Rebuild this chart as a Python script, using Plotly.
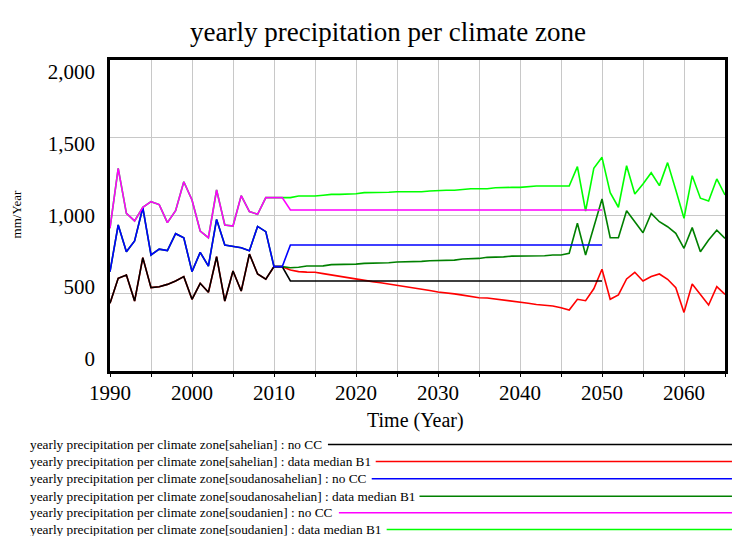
import plotly.graph_objects as go

# ---------------- data ----------------
years_hist = list(range(1990, 2012))          # 1990..2011 (shared by both scenarios)
sahel_hist = [435, 596, 617, 450, 729, 536, 542, 557, 579, 607, 461,
              564, 506, 735, 450, 643, 514, 752, 624, 590, 671, 671]
soudanosahel_hist = [639, 939, 767, 836, 1050, 746, 784, 774, 883, 857, 639,
                     763, 675, 975, 810, 802, 793, 774, 930, 896, 671, 671]
soudan_hist = [918, 1303, 1014, 965, 1053, 1089, 1070, 954, 1031, 1217, 1100,
               900, 857, 1164, 939, 932, 1128, 1025, 1008, 1115, 1115, 1115]

# no CC scenario after 2011: constant level 2012..2050
years_nocc_future = [2012, 2050]
sahel_nocc_future = [579, 579]
soudanosahel_nocc_future = [810, 810]
soudan_nocc_future = [1035, 1035]

# data median B1 scenario, 2012..2065
years_b1_future = list(range(2012, 2066))
sahel_b1_future = [649, 639, 636, 635, 626, 617, 608, 598, 590, 583,
                   575, 568, 560, 553, 545, 536, 527, 518, 508, 504,
                   496, 488, 479, 471, 469, 463, 456, 449, 446, 436,
                   428, 424, 418, 407, 392, 461, 452, 529, 654, 461,
                   489, 592, 635, 579, 607, 624, 590, 536, 377, 560,
                   495, 424, 542, 493]
soudanosahel_b1_future = [664, 667, 675, 675, 676, 684, 684, 684, 687, 692,
                          692, 692, 696, 701, 701, 701, 705, 709, 709, 709,
                          713, 720, 720, 724, 731, 731, 734, 739, 739, 739,
                          739, 741, 746, 746, 757, 950, 746, 928, 1106, 857,
                          857, 1031, 960, 889, 1014, 960, 928, 885, 789, 922,
                          767, 842, 905, 853]
soudan_b1_future = [1115, 1125, 1125, 1125, 1130, 1136, 1136, 1136, 1140, 1147,
                    1147, 1147, 1150, 1153, 1153, 1153, 1153, 1158, 1162, 1162,
                    1162, 1168, 1172, 1172, 1172, 1178, 1181, 1181, 1181, 1186,
                    1190, 1190, 1190, 1190, 1190, 1314, 1029, 1303, 1374, 1147,
                    1053, 1320, 1138, 1203, 1275, 1192, 1340, 1164, 982, 1256,
                    1111, 1093, 1235, 1132]

series_names = [
    "yearly precipitation per climate zone[sahelian] : no CC",
    "yearly precipitation per climate zone[sahelian] : data median B1",
    "yearly precipitation per climate zone[soudanosahelian] : no CC",
    "yearly precipitation per climate zone[soudanosahelian] : data median B1",
    "yearly precipitation per climate zone[soudanien] : no CC",
    "yearly precipitation per climate zone[soudanien] : data median B1",
]
colors = ["#000000", "#ff0000", "#0000ff", "#008000", "#ff00ff", "#00ff00"]
y_ticks = [0, 500, 1000, 1500, 2000]
x_ticks = [1990, 2000, 2010, 2020, 2030, 2040, 2050, 2060]

series = {
    0: (years_hist + years_nocc_future, sahel_hist + sahel_nocc_future),
    1: (years_hist + years_b1_future, sahel_hist + sahel_b1_future),
    2: (years_hist + years_nocc_future, soudanosahel_hist + soudanosahel_nocc_future),
    3: (years_hist + years_b1_future, soudanosahel_hist + soudanosahel_b1_future),
    4: (years_hist + years_nocc_future, soudan_hist + soudan_nocc_future),
    5: (years_hist + years_b1_future, soudan_hist + soudan_b1_future),
}

FONT = "Liberation Serif, Times New Roman, serif"
fig = go.Figure()
# B1 series underneath, no CC series on top
for i in [1, 3, 5, 0, 2, 4]:
    xs, ys = series[i]
    fig.add_trace(go.Scatter(x=xs, y=ys, mode="lines", name=series_names[i],
                             line=dict(color=colors[i], width=1.6),
                             showlegend=False))
# empty trace to carry the label axis
fig.add_trace(go.Scatter(x=[], y=[], yaxis="y2", showlegend=False, hoverinfo="skip"))

W, H = 735, 536
L, R, T, B = 110, 7, 60, 165
pw, ph = W - L - R, H - T - B

def px_x(x):
    return (x - L) / pw

def px_y(y):
    return (H - B - y) / ph

fig.update_layout(
    width=W, height=H,
    margin=dict(l=L, r=R, t=T, b=B),
    paper_bgcolor="white", plot_bgcolor="white",
    font=dict(family=FONT, color="black"),
    title=dict(text="yearly precipitation per climate zone",
               font=dict(family=FONT, size=27, color="black"),
               x=388 / W, xanchor="center", y=1 - 32 / H, yanchor="middle",
               xref="container", yref="container"),
    xaxis=dict(range=[1990, 2065], tickvals=x_ticks,
               showgrid=True, gridcolor="#c8c8c8", gridwidth=1,
               minor=dict(dtick=5, tick0=1990, showgrid=True, gridcolor="#c8c8c8",
                          ticks="outside", ticklen=3, tickcolor="black"),
               ticks="outside", ticklen=3, tickcolor="black",
               ticklabelstandoff=-2,
               showline=True, linecolor="black", linewidth=3, mirror=True,
               zeroline=False,
               tickfont=dict(family=FONT, size=21, color="black")),
    yaxis=dict(range=[0, 2000], tickvals=y_ticks, showticklabels=False,
               showgrid=True, gridcolor="#c8c8c8", gridwidth=1,
               showline=True, linecolor="black", linewidth=3, mirror=True,
               zeroline=False, ticks=""),
    yaxis2=dict(overlaying="y", side="left", range=[-88.7, 2083.8],
                tickvals=y_ticks, tickformat=",", showgrid=False, zeroline=False,
                showline=False, ticks="", ticklabelstandoff=14,
                tickfont=dict(family=FONT, size=21, color="black")),
)

annotations = [
    dict(text="Time (Year)", x=px_x(417), y=px_y(420), xref="paper", yref="paper",
         showarrow=False, xanchor="center", yanchor="middle",
         font=dict(family=FONT, size=20, color="black")),
    dict(text="mm/Year", x=px_x(16), y=px_y(214), xref="paper", yref="paper",
         showarrow=False, xanchor="center", yanchor="middle", textangle=-90,
         font=dict(family=FONT, size=13, color="black")),
]
legend_rows_y = [444.5, 461.5, 478.8, 496.2, 512.8, 529.5]
legend_line_start = [329, 377, 373, 421, 340, 388]
shapes = []
for i in range(6):
    annotations.append(dict(text=series_names[i], x=px_x(28), y=px_y(legend_rows_y[i]),
                            xref="paper", yref="paper", showarrow=False,
                            xanchor="left", yanchor="middle",
                            font=dict(family=FONT, size=13.3, color="black")))
    shapes.append(dict(type="line", xref="paper", yref="paper",
                       x0=px_x(legend_line_start[i]), x1=px_x(735),
                       y0=px_y(legend_rows_y[i]), y1=px_y(legend_rows_y[i]),
                       line=dict(color=colors[i], width=1.6)))
fig.update_layout(annotations=annotations, shapes=shapes)

fig.write_html("out.html")
